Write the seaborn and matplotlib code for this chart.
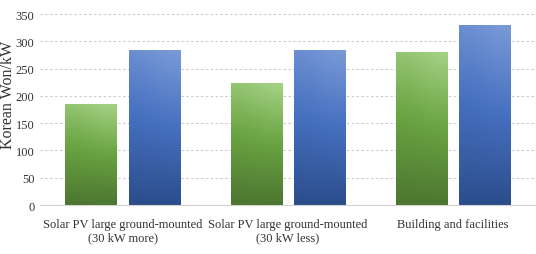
import numpy as np
import pandas as pd
import matplotlib
matplotlib.use("Agg")
import matplotlib.pyplot as plt
import seaborn as sns
from matplotlib.colors import LinearSegmentedColormap

# Data
categories = ["Solar PV large ground-mounted\n(30 kW more)",
              "Solar PV large ground-mounted\n(30 kW less)",
              "Building and facilities"]
series_names = ["A", "B"]
series_a = [186, 223, 281]
series_b = [285, 285, 330]
yticks = [0, 50, 100, 150, 200, 250, 300, 350]

df = pd.DataFrame({
    "category": categories * 2,
    "series": [series_names[0]] * 3 + [series_names[1]] * 3,
    "value": series_a + series_b,
})

sns.set_style("white")
plt.rcParams['font.family'] = ['Liberation Serif', 'DejaVu Serif']

fig = plt.figure(figsize=(5.36, 2.55), dpi=100)
ax = fig.add_axes([0.0746, 0.192, 0.925, 0.749])

sns.barplot(data=df, x="category", y="value", hue="series", order=categories,
            palette=["#70ad47", "#4472c4"], width=0.764, gap=0.19,
            legend=False, ax=ax)

# gradient fills, clipped to each bar
green_cmap = LinearSegmentedColormap.from_list("g", ["#4c7630", "#6aa442", "#a6d386"])
blue_cmap = LinearSegmentedColormap.from_list("b", ["#2b4d8c", "#4671c0", "#7b9bd8"])
grad = np.linspace(0, 1, 256).reshape(-1, 1)
grad = np.hstack([grad * 0.85, grad])  # slightly lighter on the right
n = len(categories)
for i, patch in enumerate(ax.patches[:2 * n]):
    x0, y0 = patch.get_x(), patch.get_y()
    w, h = patch.get_width(), patch.get_height()
    cmap = green_cmap if i < n else blue_cmap
    img = ax.imshow(grad, cmap=cmap, origin="lower", aspect="auto",
                    extent=[x0, x0 + w, y0, y0 + h], zorder=patch.get_zorder(),
                    interpolation="bicubic")
    img.set_clip_path(patch)
    patch.set_facecolor("none")
    patch.set_edgecolor("none")

ax.set_xlim(-0.5, n - 0.5)
ax.set_ylim(0, 350)
ax.set_yticks(yticks)
ax.yaxis.grid(True, linestyle=(0, (2.5, 2.5)), color="#c8c8c8", linewidth=0.7)
ax.set_axisbelow(True)
for s in ["top", "right", "left"]:
    ax.spines[s].set_visible(False)
ax.spines["bottom"].set_color("#d0d0d0")
ax.tick_params(axis="both", length=0, labelsize=9, colors="#333333")
ax.tick_params(axis="y", pad=4)
ax.tick_params(axis="x", pad=9)
ax.set_xlabel("")
ax.set_ylabel("Korean Won/kW", fontsize=11.5, color="#333333")
ax.yaxis.set_label_coords(-0.048, 0.58)

fig.savefig("out.png", dpi=100)
